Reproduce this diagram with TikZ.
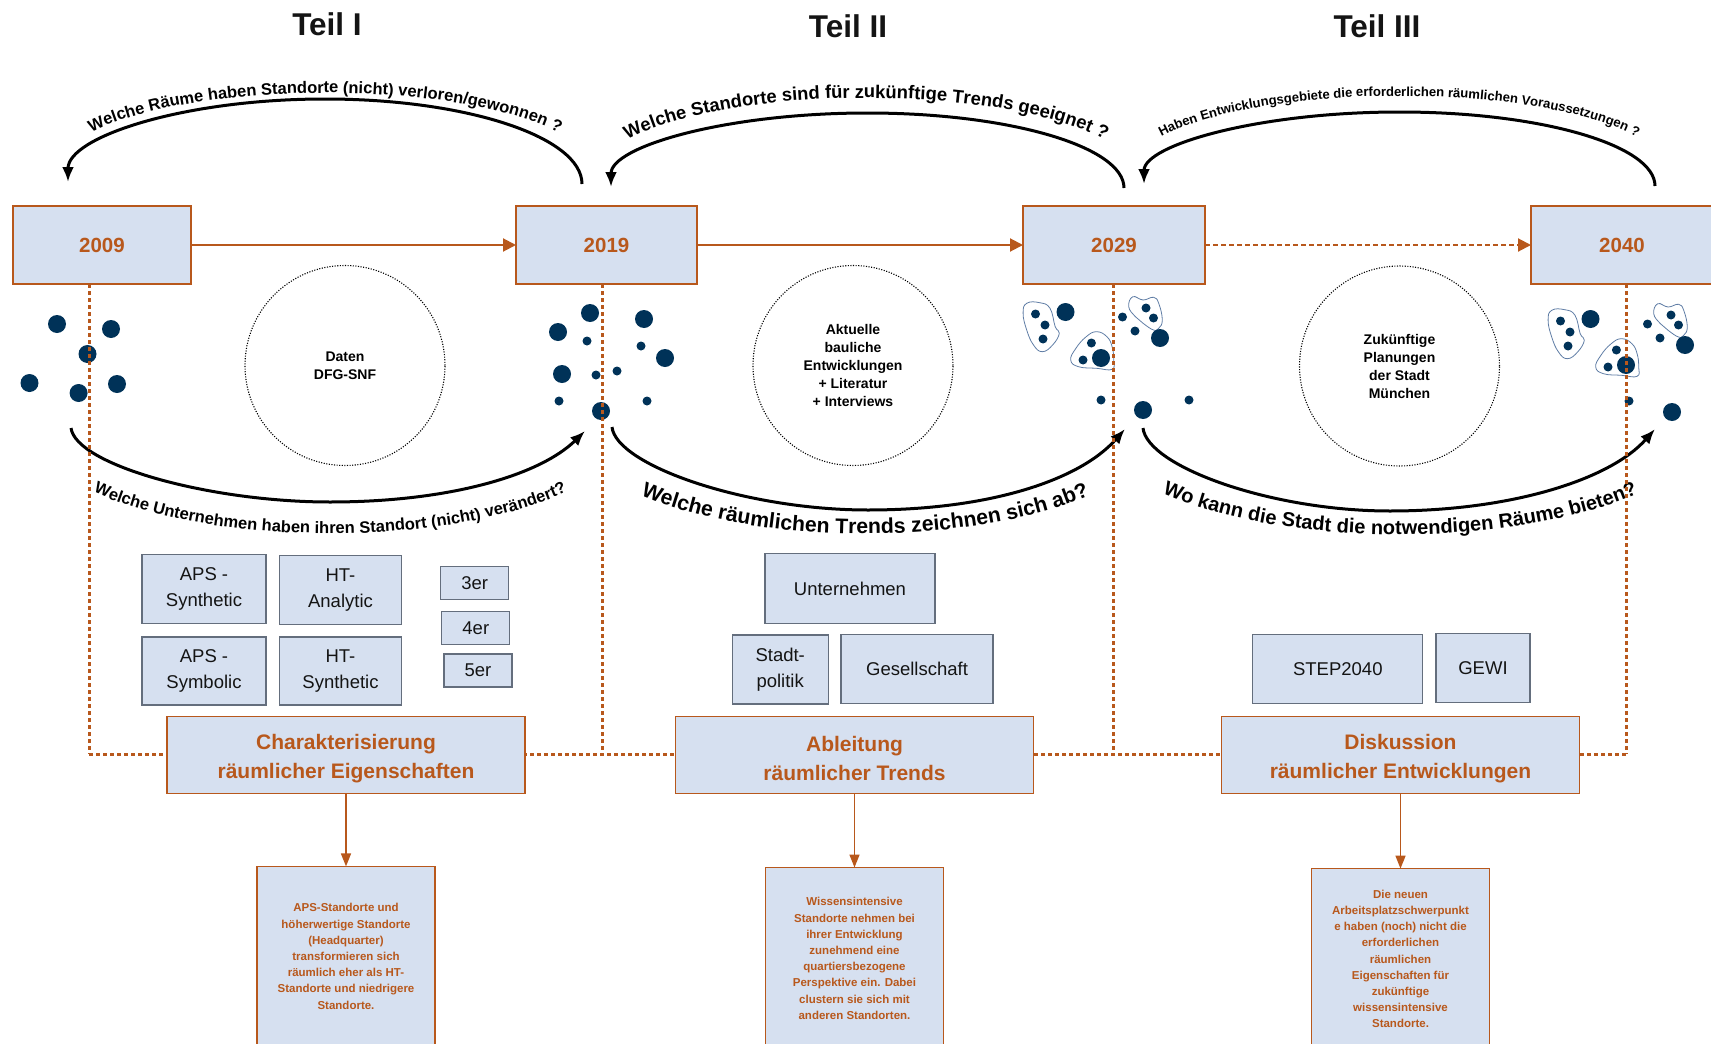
\documentclass[tikz,border=0pt]{standalone}
\usepackage{fontspec}
\setmainfont{Liberation Sans}
\usetikzlibrary{arrows.meta,decorations.text}
\definecolor{org}{RGB}{184,88,28}
\definecolor{boxfill}{RGB}{214,224,240}
\definecolor{navy}{RGB}{0,50,88}
\definecolor{blobline}{RGB}{95,125,165}
\definecolor{sbord}{RGB}{100,110,125}
\definecolor{txtdark}{RGB}{20,20,20}
\newcommand\clusterdots{%
  \draw[blob] plot[smooth cycle, tension=0.75] coordinates {(1026.7,303.3) (1039.7,302.7) (1050,308.3) (1055.2,326.7) (1059.3,333.3) (1052.6,345) (1042.3,351.7) (1033.5,345) (1026.7,330) (1023.1,313.3)};
  \draw[blob] plot[smooth cycle, tension=0.75] coordinates {(1086.2,336.7) (1096.6,331.7) (1106.9,336.7) (1112.1,346.7) (1113.7,360) (1112.1,369.3) (1096.6,368.3) (1078.5,366.7) (1070.7,360) (1075.9,348.3)};
  \draw[blob] plot[smooth cycle, tension=0.75] coordinates {(1132.8,296.7) (1143.1,300) (1153.5,297.3) (1158.7,303.3) (1162.3,320) (1158.7,328.3) (1153.5,330) (1143.1,323.3) (1135.4,316.7) (1128.7,306.7)};
  \foreach \p in {(1035.5,314),(1045,325),(1043,339),(1091.4,343),(1083,360),(1146,308),(1153.5,318),(1122.5,317),(1135,331)}
    \fill[navy] \p circle[radius=4.5];
  \foreach \p in {(1065.5,312),(1101,358),(1160,338)}
    \fill[navy] \p circle[radius=9];
}
\begin{document}
\begin{tikzpicture}[x=1pt,y=-1pt,
  every node/.style={inner sep=0pt, outer sep=0pt},
  yearbox/.style={draw=org, line width=1.8pt, fill=boxfill, minimum width=178pt, minimum height=78pt, text=org, font=\fontsize{20.5}{24}\selectfont\bfseries},
  mainbox/.style={draw=org, line width=1.6pt, fill=boxfill, minimum width=358pt, minimum height=77pt},
  maintext/.style={text=org, align=center, font=\fontsize{21}{29.5}\selectfont\bfseries},
  sbox/.style={draw=sbord, line width=1.2pt, fill=boxfill, align=center, text=txtdark, font=\fontsize{18.5}{26}\selectfont},
  resbox/.style={draw=org, line width=1.6pt, fill=boxfill, minimum width=178pt, minimum height=200pt, anchor=north},
  restext/.style={text=org, align=center, font=\fontsize{11.5}{16.2}\selectfont\bfseries},
  circ/.style={circle, draw=black, line width=1.1pt, dash pattern=on 1.1pt off 1.5pt, minimum size=200pt, align=center, font=\fontsize{14}{18}\selectfont\bfseries},
  teil/.style={font=\fontsize{31.5}{36}\selectfont\bfseries, text=txtdark},
  odot/.style={draw=org, line width=3pt, dash pattern=on 3.5pt off 3.5pt},
  yarrow/.style={draw=org, line width=2pt, -{Triangle[length=13pt,width=13pt]}},
  darrow/.style={draw=org, line width=1.6pt, -{Triangle[length=13pt,width=10pt]}},
  arcline/.style={draw=black, line width=3pt, -{Latex[length=15pt,width=12pt]}},
  blob/.style={draw=blobline, line width=0.8pt},
]
\useasboundingbox (0,0) rectangle (1711,1044);
\clip (0,0) rectangle (1711,1044);

% ---------- dots ----------
\foreach \p in {(57,324),(111,329),(87.5,354),(29.5,383),(78.6,393),(117,384)}
  \fill[navy] \p circle[radius=9];
\foreach \p in {(590,313),(558,332),(644,319),(665,358),(562,374),(601,411)}
  \fill[navy] \p circle[radius=9];
\foreach \p in {(587,341),(641,346),(596,375),(617,371),(559,401),(647,401)}
  \fill[navy] \p circle[radius=4.5];
\clusterdots
\begin{scope}[shift={(525,7)}]
  \clusterdots
\end{scope}
\fill[navy] (1101,400) circle[radius=4.5];
\fill[navy] (1143,410) circle[radius=9];
\fill[navy] (1189,400) circle[radius=4.5];
\fill[navy] (1629,401) circle[radius=4.5];
\fill[navy] (1672,412) circle[radius=9];

% ---------- circles ----------
\node[circ] (c1) at (345,365.5) {Daten\\DFG-SNF};
\node[circ] (c2) at (853,365.5) {Aktuelle\\bauliche\\Entwicklungen\\+ Literatur\\+ Interviews};
\node[circ] (c3) at (1399.5,366) {Zukünftige\\Planungen\\der Stadt\\München};

% ---------- upper arcs ----------
\draw[arcline] (582,184) .. controls (582,137.1) and (466.9,99) .. (325,99) .. controls (183.1,99) and (68,137.1) .. (68,182);
\draw[arcline] (1124,188) .. controls (1124,146.6) and (1009.2,113) .. (867.5,113) .. controls (725.8,113) and (611,146.6) .. (611,187);
\draw[arcline] (1655,186) .. controls (1655,145.1) and (1540.6,112) .. (1399.5,112) .. controls (1258.4,112) and (1144,145.1) .. (1144,184);

\path[decorate, decoration={text along path, text align=center,
  text={|\fontsize{16.5}{17}\selectfont\bfseries|Welche Räume haben Standorte (nicht) verloren/gewonnen ?}}]
  (60,168) .. controls (60,126.6) and (178.2,93) .. (325,93) .. controls (471.8,93) and (590,126.6) .. (590,168);
\path[decorate, decoration={text along path, text align=center,
  text={|\fontsize{18.4}{19}\selectfont\bfseries|Welche Standorte sind für zukünftige Trends geeignet ?}}]
  (598,175) .. controls (598,132.5) and (718,98) .. (866,98) .. controls (1014,98) and (1134,132.5) .. (1134,175);
\path[decorate, decoration={text along path, text align=center,
  text={|\fontsize{13.1}{14}\selectfont\bfseries|Haben Entwicklungsgebiete die erforderlichen räumlichen Voraussetzungen ?}}]
  (1131,172) .. controls (1131,130) and (1251,96) .. (1399,96) .. controls (1547,96) and (1667,130) .. (1667,172);

% ---------- lower arcs ----------
\draw[arcline] (71,428) .. controls (76,465) and (210,502) .. (330,502) .. controls (450,502) and (540,475) .. (585,431);
\draw[arcline] (612,427) .. controls (616,465) and (745,510) .. (868,510) .. controls (990,510) and (1080,480) .. (1125,429);
\draw[arcline] (1143,428) .. controls (1147,466) and (1270,511) .. (1390,511) .. controls (1510,511) and (1610,480) .. (1655,429);

\path[decorate, decoration={text along path, text align=center,
  text={|\fontsize{16.5}{17}\selectfont\bfseries|Welche Unternehmen haben ihren Standort (nicht) verändert?}}]
  (78,484) .. controls (195,550) and (465,550) .. (582,484);
\path[decorate, decoration={text along path, text align=center,
  text={|\fontsize{21.2}{22}\selectfont\bfseries|Welche räumlichen Trends zeichnen sich ab?}}]
  (620,485) .. controls (738,550) and (992,550) .. (1110,485);
\path[decorate, decoration={text along path, text align=center,
  text={|\fontsize{20}{21}\selectfont\bfseries|Wo kann die Stadt die notwendigen Räume bieten?}}]
  (1145,485) .. controls (1268,551) and (1532,551) .. (1655,485);

% ---------- dotted guide lines ----------
\coordinate (d1t) at (89,284);   \coordinate (d1b) at (89,754);
\coordinate (d2t) at (602,284);  \coordinate (d2b) at (602,754);
\coordinate (d3t) at (1113,284); \coordinate (d3b) at (1113,754);
\coordinate (d4t) at (1626,284); \coordinate (d4b) at (1626,754);
\draw[odot] (d1t) -- (d1b);
\draw[odot] (d2t) -- (d2b);
\draw[odot] (d3t) -- (d3b);
\draw[odot] (d4t) -- (d4b);
\draw[odot] (d1b) -- (d4b);

% ---------- year boxes ----------
\node[yearbox] (y09) at (102,245) {2009};
\node[yearbox, minimum width=181pt] (y19) at (606.5,245) {2019};
\node[yearbox, minimum width=182pt] (y29) at (1114,245) {2029};
\node[yearbox, minimum width=182pt] (y40) at (1622,245) {2040};
\draw[yarrow] (y09) -- (y19);
\draw[yarrow] (y19) -- (y29);
\draw[yarrow, dash pattern=on 5pt off 3pt] (y29) -- (y40);

% ---------- small boxes ----------
\node[sbox, minimum width=124pt, minimum height=69pt] (aps1) at (204,588.6) {APS -\\Synthetic};
\node[sbox, minimum width=122pt, minimum height=69pt] (ht1) at (340.5,589.7) {HT-\\Analytic};
\node[sbox, minimum width=124pt, minimum height=68pt] (aps2) at (204,671) {APS -\\Symbolic};
\node[sbox, minimum width=122pt, minimum height=68pt] (ht2) at (340.5,671) {HT-\\Synthetic};
\node[sbox, minimum width=68pt, minimum height=33pt] (n3) at (474.7,583.2) {3er};
\node[sbox, minimum width=68pt, minimum height=33pt] (n4) at (475.8,627.9) {4er};
\node[sbox, minimum width=68pt, minimum height=33pt] (n5) at (478,670.5) {5er};
\node[sbox, minimum width=170pt, minimum height=70pt] (unt) at (850,588.5) {Unternehmen};
\node[sbox, minimum width=96pt, minimum height=69pt] (sp) at (780.2,669.4) {Stadt-\\politik};
\node[sbox, minimum width=152pt, minimum height=69pt] (ges) at (917,669) {Gesellschaft};
\node[sbox, minimum width=170pt, minimum height=69pt] (step) at (1337.8,669) {STEP2040};
\node[sbox, minimum width=94pt, minimum height=69pt] (gewi) at (1483,668) {GEWI};

% ---------- main boxes ----------
\node[mainbox] (m1) at (346,755) {};
\node[mainbox] (m2) at (854.5,755) {};
\node[mainbox] (m3) at (1400.5,755) {};
\node[maintext] (m1t) at (346,758.5) {Charakterisierung\\räumlicher Eigenschaften};
\node[maintext] (m2t) at (854.5,758.5) {Ableitung\\räumlicher Trends};
\node[maintext] (m3t) at (1400.5,758.5) {Diskussion\\räumlicher Entwicklungen};

% ---------- result boxes ----------
\node[resbox] (b1) at (346,866.4) {};
\node[resbox] (b2) at (854.5,867.5) {};
\node[resbox] (b3) at (1400.5,868.6) {};
\draw[darrow] (m1.south) -- (b1.north);
\draw[darrow] (m2.south) -- (b2.north);
\draw[darrow] (m3.south) -- (b3.north);
\node[restext] (r1) at (346,956.3) {APS-Standorte und\\höherwertige Standorte\\(Headquarter)\\transformieren sich\\räumlich eher als HT-\\Standorte und niedrigere\\Standorte.};
\node[restext] (r2) at (854.5,958.4) {Wissensintensive\\Standorte nehmen bei\\ihrer Entwicklung\\zunehmend eine\\quartiersbezogene\\Perspektive ein. Dabei\\clustern sie sich mit\\anderen Standorten.};
\node[restext] (r3) at (1400.5,959) {Die neuen\\Arbeitsplatzschwerpunkt\\e haben (noch) nicht die\\erforderlichen\\räumlichen\\Eigenschaften für\\zukünftige\\wissensintensive\\Standorte.};

% ---------- titles ----------
\node[teil] (t1) at (327,24) {Teil I};
\node[teil] (t2) at (848,26) {Teil II};
\node[teil] (t3) at (1377,26) {Teil III};
\end{tikzpicture}
\end{document}
